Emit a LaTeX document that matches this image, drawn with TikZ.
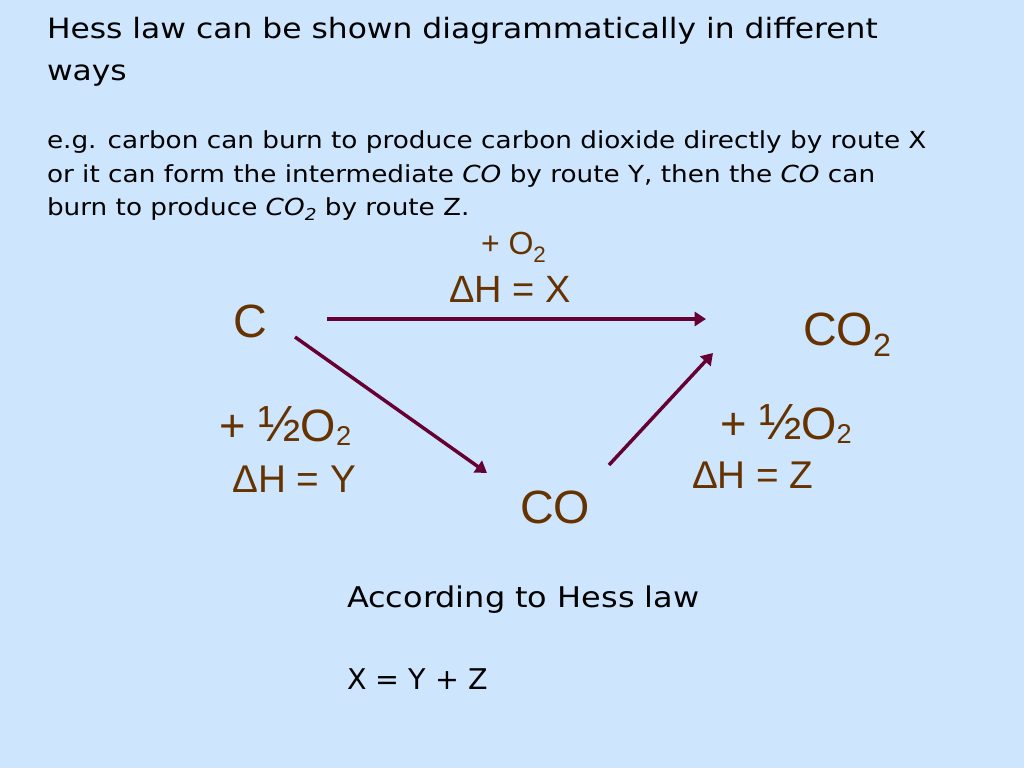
\documentclass[tikz,border=0pt]{standalone}
\usepackage{fontspec}
\usepackage{graphicx}
\usetikzlibrary{arrows.meta}
\setmainfont{Liberation Sans}
\newfontfamily\comic[FakeStretch=1.12]{DejaVu Sans}
\newfontfamily\comicn{DejaVu Sans}
\definecolor{bgblue}{RGB}{206,230,253}
\definecolor{chembrown}{RGB}{102,51,0}
\definecolor{arrowred}{RGB}{102,0,51}
\newcommand\subtx[3]{\raisebox{#2}{\scalebox{#1}{#3}}}
\newcommand\fsz[1]{\fontsize{#1}{#1}\selectfont}
\newcommand\halfbig{\scalebox{1.12}{½}}
\begin{document}
\begin{tikzpicture}[x=0.75pt,y=-0.75pt,
  txt/.style={anchor=base west, inner sep=0pt, outer sep=0pt, text=black},
  headline/.style={txt, font=\comic\fsz{21pt}},
  bodyline/.style={txt, font=\comic\fsz{17.6pt}},
  concl/.style={txt, font=\comic\fsz{21.4pt}},
  chem/.style={anchor=base west, inner sep=0pt, outer sep=0pt, text=chembrown},
  route/.style={draw=arrowred, line width=2.6pt, -{Triangle[length=8.5pt,width=10.5pt]}}]
\fill[bgblue] (0,0) rectangle (1024,768);
\useasboundingbox (0,0) rectangle (1024,768);

% header text
\node[headline] (h1) at (47,38) {Hess law can be shown diagrammatically in different};
\node[headline] (h2) at (47,80) {ways};
\node[bodyline] (b1) at (47,148) {e.g. carbon can burn to produce carbon dioxide directly by route X};
\node[bodyline] (b2) at (47,182) {or it can form the intermediate \textit{CO} by route Y, then the \textit{CO} can};
\node[bodyline] (b3) at (47,215) {burn to produce \textit{CO\subtx{0.7}{-0.25em}{2}} by route Z.};

% species
\node[chem, font=\fsz{35pt}] (C) at (233,337) {C};
\node[chem, font=\fsz{35pt}] (CO2) at (803,345) {CO\subtx{0.69}{-0.24em}{2}};
\node[chem, font=\fsz{35pt}] (CO) at (520,523) {CO};

% labels
\node[chem, font=\fsz{24pt}] (lx1) at (481,254) {+ O\subtx{0.7}{-0.28em}{2}};
\node[chem, font=\fsz{28.5pt}] (lx2) at (449.5,302) {ΔH = X};
\node[chem, font=\fsz{34pt}] (ly1) at (219.5,441) {+ \halfbig O\subtx{0.6}{-0.1em}{2}};
\node[chem, font=\fsz{29pt}] (ly2) at (232.5,492) {ΔH = Y};
\node[chem, font=\fsz{34pt}] (lz1) at (720,439) {+ \halfbig O\subtx{0.6}{-0.1em}{2}};
\node[chem, font=\fsz{29pt}] (lz2) at (692,488) {ΔH = Z};

% conclusion
\node[concl] (k1) at (347,607) {According to Hess law};
\node[txt, font=\comicn\fsz{21.4pt}] (k2) at (347,689) {X = Y + Z};

% arrow end points
\coordinate (xs) at (327,319);
\coordinate (xe) at (706,319);
\coordinate (ys) at (295,337);
\coordinate (ye) at (487,473);
\coordinate (zs) at (609,465);
\coordinate (ze) at (713,353);

\draw[route] (xs) -- (xe);
\draw[route] (ys) -- (ye);
\draw[route] (zs) -- (ze);
\end{tikzpicture}
\end{document}
